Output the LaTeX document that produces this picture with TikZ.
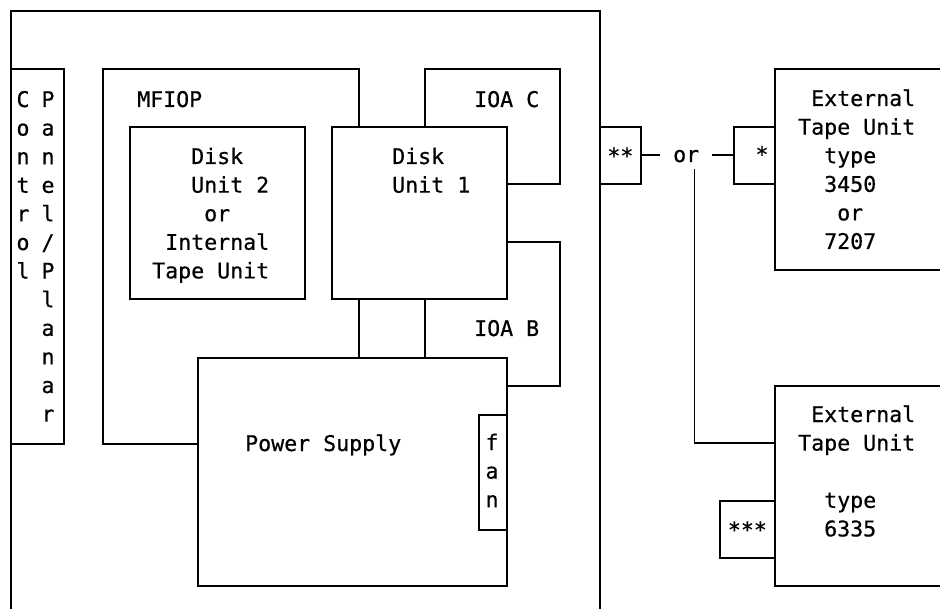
\documentclass[tikz,border=0pt]{standalone}
\usepackage{fontspec}
\setmonofont[FakeBold=0.5]{DejaVu Sans Mono}
\usetikzlibrary{positioning}

\begin{document}
\begin{tikzpicture}[
  x=1pt, y=-1pt,
  box/.style 2 args={draw, fill=white, line width=1.8pt, anchor=north west,
            inner sep=0pt, minimum width=#1, minimum height=#2},
  lbl/.style={font=\ttfamily\fontsize{21.6}{28.6}\selectfont, inner sep=0pt,
            align=left, anchor=base west},
  col/.style={lbl, align=center, anchor=base},
  conn/.style={line width=1.8pt}
]
  \useasboundingbox (0,0) rectangle (940,609);
  \clip (0,0) rectangle (940,609);

  % --- system unit
  \node[box={589}{640}] (sys) at (10,10) {};
  \node[box={53}{375}] (cp) at (10,68) {};
  \node[box={256}{375}] (mf) at (102,68) {};
  \node[box={135}{115}] (ioac) at (424,68) {};
  \node[box={135}{144}] (ioab) at (424,241) {};
  \node[box={175}{172}] (d2) at (129,126) {};
  \node[box={175}{172}] (d1) at (331,126) {};
  \node[box={309}{228}] (ps) at (197,357) {};
  \node[box={28}{115}] (fan) at (478,414) {};

  % (base of a multi-line label = its last line)
  \node[col] (cpa) at (23,278.6) {C\\o\\n\\t\\r\\o\\l};
  \node[col] (cpb) at (48,421.6) {P\\a\\n\\e\\l\\/\\P\\l\\a\\n\\a\\r};
  \node[lbl] (mft) at (137,107) {MFIOP};
  \node[lbl] (ioact) at (474,107) {IOA C};
  \node[lbl] (ioabt) at (474,336) {IOA B};
  \node[lbl] (d2t) at (152,278.4) {\hphantom{Tap}Disk\\\hphantom{Tap}Unit 2\\
        \hphantom{Tape}or\\\hphantom{T}Internal\\Tape Unit};
  \node[lbl] (d1t) at (392,192.6) {Disk\\Unit 1};
  \node[lbl] (pst) at (245,451) {Power Supply};
  \node[col] (fant) at (492,507.2) {f\\a\\n};

  % --- external tape units
  \node[box={41}{57}] (s2) at (599,126) {};
  \node[lbl, anchor=center] (s2t) at (s2) {**};
  \node[lbl] (or) at (673,162) {or};
  \node[box={41}{57}] (s1) at (733,126) {};
  \node[lbl, anchor=center] (s1t) at (762,154) {*};
  \node[box={200}{201}] (ext1) at (774,68) {};
  \node[lbl] (e1t) at (798,249) {\hphantom{T}External\\Tape Unit\\
        \hphantom{Ta}type\\\hphantom{Ta}3450\\\hphantom{Tap}or\\\hphantom{Ta}7207};
  \node[box={200}{200}] (ext2) at (774,385) {};
  \node[box={55}{57}] (s3) at (719,500) {};
  \node[lbl, anchor=center] (s3t) at (s3) {***};
  \node[lbl] (e2t) at (798,536.4) {\hphantom{T}External\\Tape Unit\\[28.6pt]
        \hphantom{Ta}type\\\hphantom{Ta}6335};

  \draw[conn, shorten >=13pt] (s2.east) -- (s2.east -| or.west);
  \draw[conn, shorten <=13pt] (s1.west -| or.east) -- (s1.west);
  \draw[conn] ([xshift=-5pt,yshift=-6pt]or.south east) |- ([yshift=43pt]ext2.west);
\end{tikzpicture}
\end{document}
